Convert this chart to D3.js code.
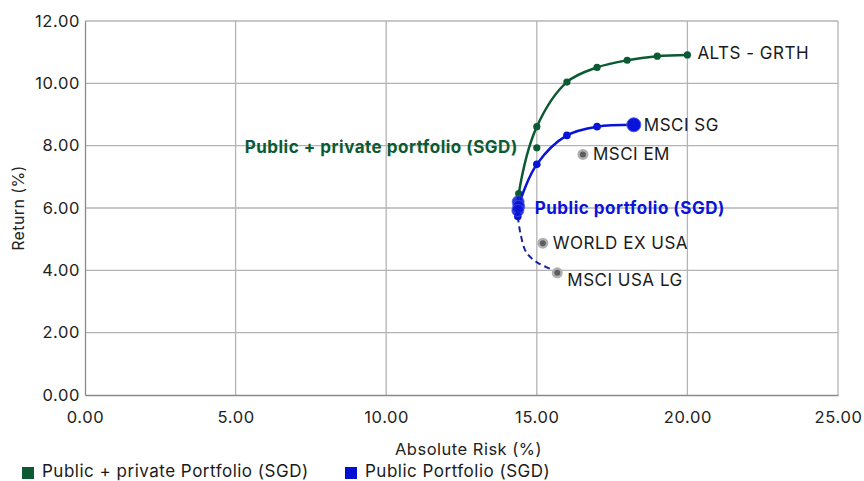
<!DOCTYPE html>
<html>
<head>
<meta charset="utf-8">
<script src="https://cdn.jsdelivr.net/npm/d3@7"></script>
<style>
  html, body { margin: 0; padding: 0; background: #fff; }
  svg { display: block; font-family: Inter, "Noto Sans", sans-serif; }
</style>
</head>
<body>
<svg id="chart" width="864" height="481"></svg>
<script>
// Risk / return frontiers, in percent: [absolute risk, return]
const privateFrontier = [[14.35, 5.75], [14.4, 6.46], [15.0, 8.61], [16.0, 10.04], [17.0, 10.51], [18.0, 10.74], [19.0, 10.87], [20.0, 10.91]];
const privateDots = [[14.4, 6.46], [15.0, 7.93], [15.0, 8.61], [16.0, 10.04], [17.0, 10.51], [18.0, 10.74], [19.0, 10.87], [20.0, 10.91]];
const publicFrontier = [[14.37, 5.73], [14.4, 6.05], [15.0, 7.40], [16.0, 8.33], [17.0, 8.61], [18.22, 8.67]];
const publicDots = [[14.37, 5.73], [15.0, 7.40], [16.0, 8.33], [17.0, 8.61]];
const publicCluster = [[14.38, 6.2], [14.4, 6.05], [14.37, 5.92]];
const publicEnd = [[18.22, 8.67]];
const lowerBranch = [[14.37, 5.73], [14.46, 5.17], [14.65, 4.58], [15.0, 4.26], [15.44, 4.05], [15.68, 3.94]];

const benchmarks = [
  { name: "MSCI EM", risk: 16.53, ret: 7.72 },
  { name: "WORLD EX USA", risk: 15.2, ret: 4.87 },
  { name: "MSCI USA LG", risk: 15.68, ret: 3.92 }
];
const pointLabels = [
  { name: "ALTS - GRTH", risk: 20.0, ret: 10.91 },
  { name: "MSCI SG", risk: 18.22, ret: 8.67 },
  { name: "MSCI EM", risk: 16.53, ret: 7.72 },
  { name: "WORLD EX USA", risk: 15.2, ret: 4.87 },
  { name: "MSCI USA LG", risk: 15.68, ret: 3.92 }
];

const xTicks = [0, 5, 10, 15, 20, 25];
const yTicks = [0, 2, 4, 6, 8, 10, 12];
const legendItems = ["Public + private Portfolio (SGD)", "Public Portfolio (SGD)"];

const GREEN = "#0b5a33";
const BLUE = "#0a14d8";
const GRID = "#b4b4b4";

// label placement tweaks (pixels)
const labelShift = { "ALTS - GRTH": -2, "MSCI USA LG": 7 };
const legendX = [22, 345];

const svg = d3.select("#chart");
const margin = { left: 85, right: 26, top: 21, bottom: 86 };
const W = 864, H = 481;

const x = d3.scaleLinear().domain([0, 25]).range([margin.left, W - margin.right]);
const y = d3.scaleLinear().domain([0, 12]).range([H - margin.bottom, margin.top]);

// grid
svg.append("g").selectAll("line").data(yTicks.slice(1)).join("line")
  .attr("x1", x(0)).attr("x2", x(25))
  .attr("y1", d => y(d)).attr("y2", d => y(d))
  .attr("stroke", GRID).attr("stroke-width", 1.3);
svg.append("g").selectAll("line").data(xTicks.slice(1)).join("line")
  .attr("y1", y(0)).attr("y2", y(12))
  .attr("x1", d => x(d)).attr("x2", d => x(d))
  .attr("stroke", GRID).attr("stroke-width", 1.3);

// axes
const xAxis = svg.append("g").attr("transform", `translate(0,${y(0)})`)
  .call(d3.axisBottom(x).tickValues(xTicks).tickFormat(d3.format(".2f")).tickSize(0).tickPadding(16));
const yAxis = svg.append("g").attr("transform", `translate(${x(0)},0)`)
  .call(d3.axisLeft(y).tickValues(yTicks).tickFormat(d3.format(".2f")).tickSize(0).tickPadding(5));
[xAxis, yAxis].forEach(g => {
  g.select(".domain").attr("stroke", "#8a8a8a").attr("stroke-width", 1.3);
  g.selectAll("text").attr("font-size", 16.5).attr("letter-spacing", 0.6)
    .attr("fill", "#222").attr("font-family", "Inter, sans-serif");
});

svg.append("text").attr("x", (x(0) + x(25)) / 2 + 7).attr("y", 455)
  .attr("text-anchor", "middle").attr("font-size", 16.5).attr("letter-spacing", 0.5).attr("fill", "#222")
  .text("Absolute Risk (%)");
svg.append("text").attr("transform", `translate(24,${(y(0) + y(12)) / 2}) rotate(-90)`)
  .attr("text-anchor", "middle").attr("font-size", 16).attr("letter-spacing", 0.4).attr("fill", "#222")
  .text("Return (%)");

const line = d3.line().x(d => x(d[0])).y(d => y(d[1])).curve(d3.curveCatmullRom.alpha(0.5));

// dashed lower branch
svg.append("path").datum(lowerBranch).attr("d", line)
  .attr("fill", "none").attr("stroke", "#10239a").attr("stroke-width", 2)
  .attr("stroke-dasharray", "6,4");

// frontiers
svg.append("path").datum(privateFrontier).attr("d", line)
  .attr("fill", "none").attr("stroke", GREEN).attr("stroke-width", 2.5);
svg.append("g").selectAll("circle").data(privateDots).join("circle")
  .attr("cx", d => x(d[0])).attr("cy", d => y(d[1])).attr("r", 3.6).attr("fill", GREEN);

svg.append("path").datum(publicFrontier).attr("d", line)
  .attr("fill", "none").attr("stroke", BLUE).attr("stroke-width", 2.5);
svg.append("g").selectAll("circle").data(publicDots).join("circle")
  .attr("cx", d => x(d[0])).attr("cy", d => y(d[1])).attr("r", 3.8).attr("fill", BLUE);
svg.append("g").selectAll("circle").data(publicCluster).join("circle")
  .attr("cx", d => x(d[0])).attr("cy", d => y(d[1])).attr("r", 6)
  .attr("fill", BLUE).attr("fill-opacity", 0.85)
  .attr("stroke", "#4a55e0").attr("stroke-opacity", 0.7).attr("stroke-width", 1);
svg.append("g").selectAll("circle").data(publicEnd).join("circle")
  .attr("cx", d => x(d[0])).attr("cy", d => y(d[1])).attr("r", 7)
  .attr("fill", BLUE).attr("stroke", "#4a55e8").attr("stroke-width", 1);

// benchmark points
const bm = svg.append("g").selectAll("g").data(benchmarks).join("g")
  .attr("transform", d => `translate(${x(d.risk)},${y(d.ret)})`);
bm.append("circle").attr("r", 5.5).attr("fill", "#b0b0b0");
bm.append("circle").attr("r", 3).attr("fill", "#5e5e5e");

// point labels
svg.append("g").selectAll("text").data(pointLabels).join("text")
  .attr("x", d => x(d.risk) + 10).attr("y", d => y(d.ret) + (labelShift[d.name] || 0))
  .attr("dy", "0.35em").attr("font-size", 17).attr("letter-spacing", 0.5).attr("fill", "#1a1a1a")
  .text(d => d.name);

// series labels
svg.append("text").attr("x", x(15.0) - 19).attr("y", y(7.93) - 1).attr("dy", "0.35em")
  .attr("text-anchor", "end").attr("font-size", 17).attr("font-weight", 700).attr("letter-spacing", 0.5)
  .attr("fill", GREEN).text("Public + private portfolio (SGD)");
svg.append("text").attr("x", x(14.4) + 16).attr("y", y(6.0)).attr("dy", "0.35em")
  .attr("font-size", 17).attr("font-weight", 700).attr("letter-spacing", 0.5)
  .attr("fill", BLUE).text("Public portfolio (SGD)");

// legend
const lg = svg.append("g").selectAll("g").data(legendItems).join("g")
  .attr("transform", (d, i) => `translate(${legendX[i]},0)`);
lg.append("rect").attr("x", 0).attr("y", 467).attr("width", 12).attr("height", 12)
  .attr("fill", (d, i) => i === 0 ? GREEN : "#0010d0");
lg.append("text").attr("x", 20).attr("y", 477).attr("font-size", 17).attr("letter-spacing", 0.5).attr("fill", "#1a1a1a")
  .text(d => d);
</script>
</body>
</html>
